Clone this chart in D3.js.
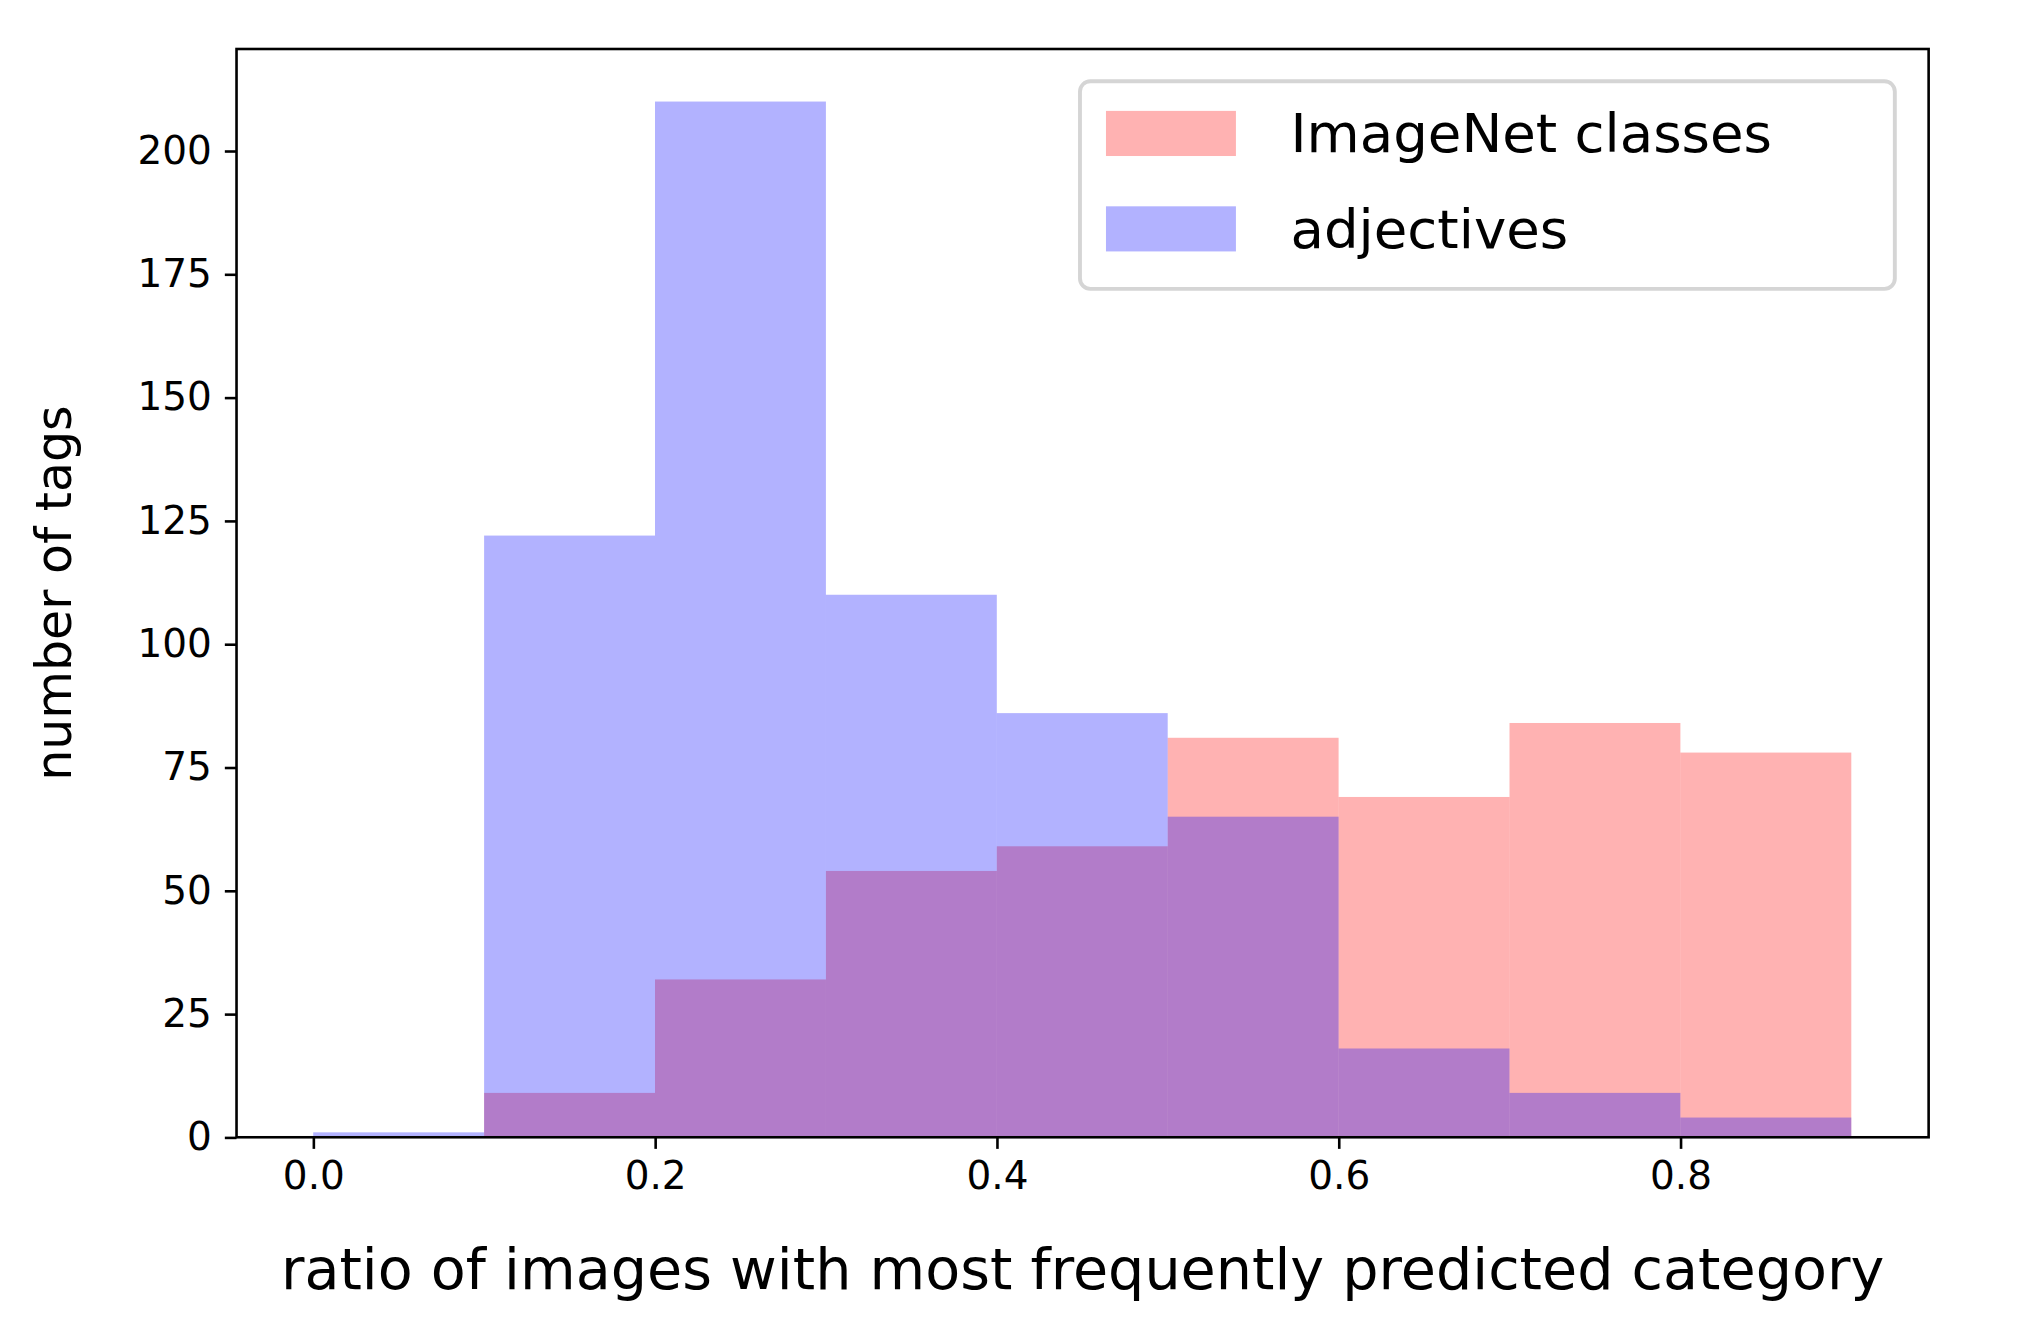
<!DOCTYPE html>
<html><head><meta charset="utf-8">
<script src="https://cdn.jsdelivr.net/npm/d3@7"></script>
<style>body{margin:0;background:#fff}text{font-family:"DejaVu Sans";fill:#000}</style>
</head><body>
<svg id="chart" width="2017" height="1341" viewBox="0 0 1552 1040" preserveAspectRatio="none"></svg>
<script>
const binEdges = [0, 0.1, 0.2, 0.3, 0.4, 0.5, 0.6, 0.7, 0.8, 0.9]
const imagenet = [0, 9, 32, 54, 59, 81, 69, 84, 78]
const adjectives = [1, 122, 210, 110, 86, 65, 18, 9, 4]
const xTicks = [0, 0.2, 0.4, 0.6, 0.8]
const yTicks = [0, 25, 50, 75, 100, 125, 150, 175, 200]

const svg = d3.select("#chart")
const L = 182, R = 1484, T = 38, B = 882
// x: 0.0 at 241, 0.8 at 1293
const x = d3.scaleLinear().domain([0, 0.8]).range([241, 1293])
const y = d3.scaleLinear().domain([0, 200]).range([B, 117])

function bars(vals, color) {
    svg.append("g").selectAll("rect").data(vals).enter().append("rect")
        .attr("x", (d, i) => x(binEdges[i]))
        .attr("width", (d, i) => x(binEdges[i + 1]) - x(binEdges[i]))
        .attr("y", d => y(d))
        .attr("height", d => B - y(d))
        .attr("fill", color).attr("fill-opacity", 0.3)
}
bars(imagenet, "#ff0000")
bars(adjectives, "#0000ff")

svg.append("rect").attr("x", L).attr("y", T).attr("width", R - L).attr("height", B - T)
    .attr("fill", "none").attr("stroke", "#000").attr("stroke-width", 2)

const xAxis = svg.append("g").attr("transform", "translate(0," + B + ")")
    .call(d3.axisBottom(x).tickValues(xTicks).tickFormat(d3.format(".1f")).tickSize(9).tickPadding(10))
const yAxis = svg.append("g").attr("transform", "translate(" + L + ",0)")
    .call(d3.axisLeft(y).tickValues(yTicks).tickSize(9).tickPadding(10))
for (const a of [xAxis, yAxis]) {
    a.select(".domain").remove()
    a.selectAll("line").attr("stroke-width", 2)
    a.selectAll("text").style("font-size", "30px").style("font-family", "DejaVu Sans")
}

svg.append("text").attr("x", 833).attr("y", 1000).attr("text-anchor", "middle")
    .style("font-size", "44px").text("ratio of images with most frequently predicted category")
svg.append("text").attr("transform", "translate(55,460) rotate(-90)").attr("text-anchor", "middle")
    .style("font-size", "38px").text("number of tags")

// legend
const lg = svg.append("g")
lg.append("rect").attr("x", 831).attr("y", 63).attr("width", 627).attr("height", 161).attr("rx", 8)
    .attr("fill", "#fff").attr("fill-opacity", 0.8).attr("stroke", "#d5d5d5").attr("stroke-width", 3)
const items = [["ImageNet classes", "#ff0000"], ["adjectives", "#0000ff"]]
items.forEach((it, i) => {
    lg.append("rect").attr("x", 851).attr("y", 86 + i * 74).attr("width", 100).attr("height", 35)
        .attr("fill", it[1]).attr("fill-opacity", 0.3)
    lg.append("text").attr("x", 993).attr("y", 118 + i * 74).style("font-size", "42px").text(it[0])
})
</script>
</body></html>
